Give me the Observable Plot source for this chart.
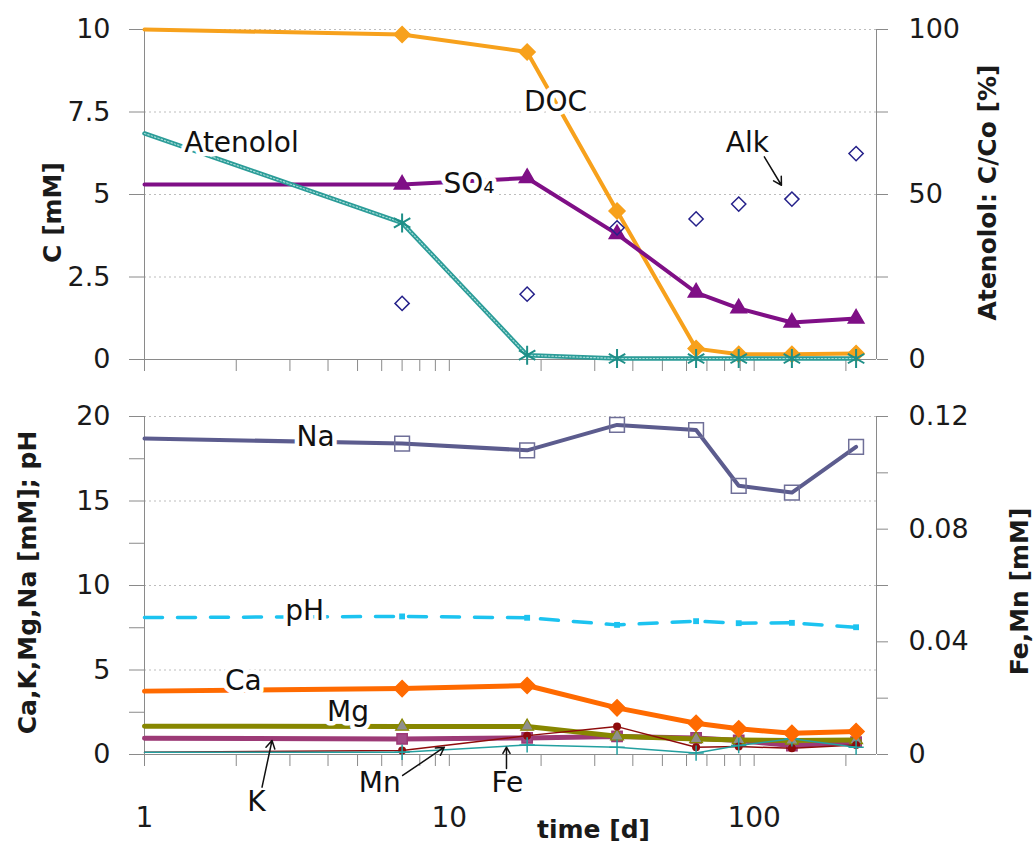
<!DOCTYPE html>
<html><head><meta charset="utf-8">
<script src="https://cdn.jsdelivr.net/npm/d3@7"></script>
<script src="https://cdn.jsdelivr.net/npm/@observablehq/plot@0.6"></script>
<style>
html,body{margin:0;padding:0;background:#fff;}
#chart{width:1034px;}
#chart svg{display:block;}
</style></head><body><div id="chart"></div>
<script>
// ---- data ----
const days = [1, 7, 18, 35.5, 64.5, 89, 133, 216];
const doc = [10.0, 9.85, 9.32, 4.5, 0.33, 0.16, 0.16, 0.18];
const so4 = [5.3, 5.3, 5.5, 3.8, 2.03, 1.55, 1.12, 1.24];
const atenololPct = [68.5, 41.4, 1.3, 0.3, 0.3, 0.3, 0.3, 0.3];
const alk = [null, 1.7, 1.98, 3.99, 4.26, 4.71, 4.86, 6.24];
const na = [18.7, 18.4, 18.0, 19.5, 19.2, 15.9, 15.5, 18.2];
const pH = [8.1, 8.17, 8.09, 7.67, 7.89, 7.77, 7.79, 7.53];
const ca = [3.75, 3.9, 4.08, 2.76, 1.85, 1.52, 1.26, 1.36];
const mg = [1.67, 1.66, 1.66, 1.08, 0.92, 0.86, 0.83, 0.86];
const kk = [0.96, 0.92, 0.98, 1.07, 0.98, 0.83, 0.53, 0.73];
const mn = [0.0008, 0.0014, 0.0067, 0.0099, 0.0026, 0.0028, 0.0022, 0.0034];
const fe = [0.0008, 0.0008, 0.0034, 0.0026, 0.0005, 0.0032, 0.0056, 0.0026];

const xTicks = [1,2,3,4,5,6,7,8,9,10,20,30,40,50,60,70,80,90,100,200];
const xLabels = [1, 10, 100];
const topLeftTicks = [0, 2.5, 5, 7.5, 10];
const topRightTicks = [0, 25, 50, 75, 100];
const topRightLabels = [0, 50, 100];
const botLeftTicks = [0, 2.5, 5, 7.5, 10, 12.5, 15, 17.5, 20];
const botLeftLabels = [0, 5, 10, 15, 20];
const botRightTicks = [0, 0.02, 0.04, 0.06, 0.08, 0.1, 0.12];
const botRightLabels = [0, 0.04, 0.08, 0.12];

const topAnnot = [
  {text: "Atenolol", x: 2.08, y: 6.57},
  {text: "SO₄", x: 11.6, y: 5.31},
  {text: "DOC", x: 22.3, y: 7.8},
  {text: "Alk", x: 95, y: 6.55}
];
const topArrows = [{x1: 108, y1: 6.14, x2: 122.9, y2: 5.28}];
const botAnnot = [
  {text: "Na", x: 3.64, y: 18.78},
  {text: "pH", x: 3.35, y: 8.46},
  {text: "Ca", x: 2.11, y: 4.32},
  {text: "Mg", x: 4.65, y: 2.49},
  {text: "K", x: 2.33, y: -2.84},
  {text: "Mn", x: 5.91, y: -1.66},
  {text: "Fe", x: 15.5, y: -1.66}
];
const botArrows = [
  {x1: 2.43, y1: -1.93, x2: 2.62, y2: 0.83},
  {x1: 7.03, y1: -1.24, x2: 9.63, y2: 0.43},
  {x1: 15.4, y1: -0.83, x2: 15.4, y2: 0.43}
];

// ---- tables ----
const TOPF = 10;            // % -> left units
const BOTF = 20 / 0.12;     // mM (Fe,Mn) -> left units
const topRows = days.map((d, i) => ({day: d, doc: doc[i], so4: so4[i], aten: atenololPct[i] / TOPF, alk: alk[i]}));
const topMk = topRows.slice(1);
const botRows = days.map((d, i) => ({day: d, na: na[i], ph: pH[i], ca: ca[i], mg: mg[i], k: kk[i], mn: mn[i] * BOTF, fe: fe[i] * BOTF}));
const botMk = botRows.slice(1);

const FONT = "DejaVu Sans";
const AX = "#8a8a8a";
const GRID = "#bdbdbd";
const TXT = "#1a1a1a";
const TICKFS = 27;
const xDomain = [1, 252];
const common = {
  width: 1034, marginLeft: 144, marginRight: 158,
  style: {fontFamily: FONT, fontSize: "26px", color: TXT, background: "white", overflow: "visible"}
};
const frameRules = () => [
  Plot.ruleX([xDomain[0]], {stroke: AX}),
  Plot.ruleX([xDomain[1]], {stroke: AX})
];
const halo = {stroke: "white", strokeWidth: 9, fill: "#111", fontFamily: FONT, fontSize: 28};
const title = {fontWeight: "bold", fontSize: 25, fill: TXT, textAnchor: "middle", lineAnchor: "middle"};

const topChart = Plot.plot({
  ...common,
  height: 385, marginTop: 29, marginBottom: 26,
  x: {type: "log", domain: xDomain},
  y: {domain: [0, 10]},
  marks: [
    Plot.ruleY([2.5, 5, 7.5, 10], {stroke: GRID, strokeDasharray: "2,3"}),
    ...frameRules(),
    Plot.ruleY([0], {stroke: AX}),
    Plot.axisX(xTicks, {tickSize: 12, tickFormat: () => "", stroke: AX, label: null}),
    Plot.axisY(topLeftTicks, {anchor: "left", tickSize: 15, tickPadding: 19, stroke: AX, fill: TXT, fontSize: TICKFS, tickFormat: d => String(d), label: null}),
    Plot.axisY(topRightTicks.map(v => v / TOPF), {anchor: "right", tickSize: 11, tickFormat: () => "", stroke: AX, label: null}),
    Plot.axisY(topRightLabels.map(v => v / TOPF), {anchor: "right", tickSize: 0, tickPadding: 32, fill: TXT, fontSize: TICKFS, tickFormat: d => String(Math.round(d * TOPF)), label: null}),
    // DOC
    Plot.line(topRows, {x: "day", y: "doc", stroke: "#f7a11c", strokeWidth: 4}),
    Plot.dot(topMk, {x: "day", y: "doc", symbol: "diamond2", r: 7.2, fill: "#f7a11c", stroke: "#f7a11c"}),
    // SO4
    Plot.line(topRows, {x: "day", y: "so4", stroke: "#7f0f86", strokeWidth: 4}),
    Plot.dot(topMk, {x: "day", y: "so4", symbol: "triangle", r: 5.8, fill: "#7f0f86", stroke: "#7f0f86"}),
    // Alk
    Plot.dot(topMk.filter(d => d.alk != null), {x: "day", y: "alk", symbol: "diamond2", r: 6.4, fill: "none", stroke: "#25218a", strokeWidth: 1.5}),
    // Atenolol (textured teal line)
    Plot.line(topRows, {x: "day", y: "aten", stroke: "#2b9c98", strokeWidth: 4.5}),
    Plot.line(topRows, {x: "day", y: "aten", stroke: "#a6dcd8", strokeWidth: 1.2, strokeDasharray: "1.5,2"}),
    Plot.dot(topMk, {x: "day", y: "aten", symbol: "asterisk", r: 9, stroke: "#1f8f88", strokeWidth: 2}),
    // annotations
    Plot.text(topAnnot, {x: "x", y: "y", text: "text", ...halo}),
    Plot.arrow(topArrows, {x1: "x1", y1: "y1", x2: "x2", y2: "y2", stroke: "#111", strokeWidth: 1.5, headLength: 9}),
    // axis titles
    Plot.text(["C [mM]"], {frameAnchor: "left", dx: -92, dy: 18, rotate: -90, ...title}),
    Plot.text(["Atenolol: C/Co [%]"], {frameAnchor: "right", dx: 111, dy: -2, rotate: -90, ...title})
  ]
});

const bottomChart = Plot.plot({
  ...common,
  height: 458, marginTop: 31, marginBottom: 89,
  x: {type: "log", domain: xDomain},
  y: {domain: [0, 20]},
  marks: [
    Plot.ruleY([5, 10, 15, 20], {stroke: GRID, strokeDasharray: "2,3"}),
    ...frameRules(),
    Plot.ruleY([0], {stroke: AX}),
    Plot.axisX(xTicks, {tickSize: 12, tickFormat: () => "", stroke: AX, label: null}),
    Plot.axisX(xLabels, {tickSize: 0, tickPadding: 53, fill: TXT, fontSize: 28, tickFormat: d => String(d), label: null}),
    Plot.axisY(botLeftTicks, {anchor: "left", tickSize: 15, tickFormat: () => "", stroke: AX, label: null}),
    Plot.axisY(botLeftLabels, {anchor: "left", tickSize: 0, tickPadding: 34, fill: TXT, fontSize: TICKFS, tickFormat: d => String(d), label: null}),
    Plot.axisY(botRightTicks.map(v => v * BOTF), {anchor: "right", tickSize: 11, tickFormat: () => "", stroke: AX, label: null}),
    Plot.axisY(botRightLabels.map(v => v * BOTF), {anchor: "right", tickSize: 0, tickPadding: 32, fill: TXT, fontSize: TICKFS, tickFormat: d => String(+(d / BOTF).toFixed(2)), label: null}),
    // Na
    Plot.line(botRows, {x: "day", y: "na", stroke: "#5c5c8e", strokeWidth: 4}),
    Plot.dot(botMk, {x: "day", y: "na", symbol: "square", r: 8.3, fill: "none", stroke: "#6f6f98", strokeWidth: 1.5}),
    // pH
    Plot.line(botRows, {x: "day", y: "ph", stroke: "#1cc3f0", strokeWidth: 3.5, strokeDasharray: "18,15"}),
    Plot.dot(botMk, {x: "day", y: "ph", symbol: "square", r: 3.3, fill: "#1cc3f0"}),
    // K
    Plot.line(botRows, {x: "day", y: "k", stroke: "#9c3a76", strokeWidth: 5}),
    Plot.dot(botMk, {x: "day", y: "k", symbol: "square", r: 5.8, fill: "#a24a86", stroke: "#9c3a76"}),
    // Mg
    Plot.line(botRows, {x: "day", y: "mg", stroke: "#878700", strokeWidth: 5}),
    Plot.dot(botMk, {x: "day", y: "mg", symbol: "triangle", r: 4.8, fill: "#8e8e8e", stroke: "#878700", strokeWidth: 1.2}),
    // Mn
    Plot.line(botRows, {x: "day", y: "mn", stroke: "#8e0b0b", strokeWidth: 1.5}),
    Plot.dot(botMk, {x: "day", y: "mn", r: 4, fill: "#8e0b0b"}),
    // Fe
    Plot.line(botRows, {x: "day", y: "fe", stroke: "#23a0a0", strokeWidth: 1.5}),
    Plot.dot(botMk, {x: "day", y: "fe", symbol: "plus", r: 5, stroke: "#23a0a0", strokeWidth: 1.5}),
    // Ca
    Plot.line(botRows, {x: "day", y: "ca", stroke: "#ff6a00", strokeWidth: 5}),
    Plot.dot(botMk, {x: "day", y: "ca", symbol: "diamond2", r: 7.2, fill: "#ff6a00", stroke: "#ff6a00"}),
    // annotations
    Plot.text(botAnnot, {x: "x", y: "y", text: "text", ...halo}),
    Plot.arrow(botArrows, {x1: "x1", y1: "y1", x2: "x2", y2: "y2", stroke: "#111", strokeWidth: 1.5, headLength: 9}),
    // axis titles
    Plot.text(["Ca,K,Mg,Na [mM]; pH"], {frameAnchor: "left", dx: -117, dy: -3, rotate: -90, ...title}),
    Plot.text(["Fe,Mn [mM]"], {frameAnchor: "right", dx: 143, dy: 6, rotate: -90, ...title}),
    Plot.text(["time [d]"], {frameAnchor: "bottom", dx: 83, dy: 75, ...title})
  ]
});

const chart = document.getElementById("chart");
chart.appendChild(topChart);
chart.appendChild(bottomChart);
</script>
</body></html>
